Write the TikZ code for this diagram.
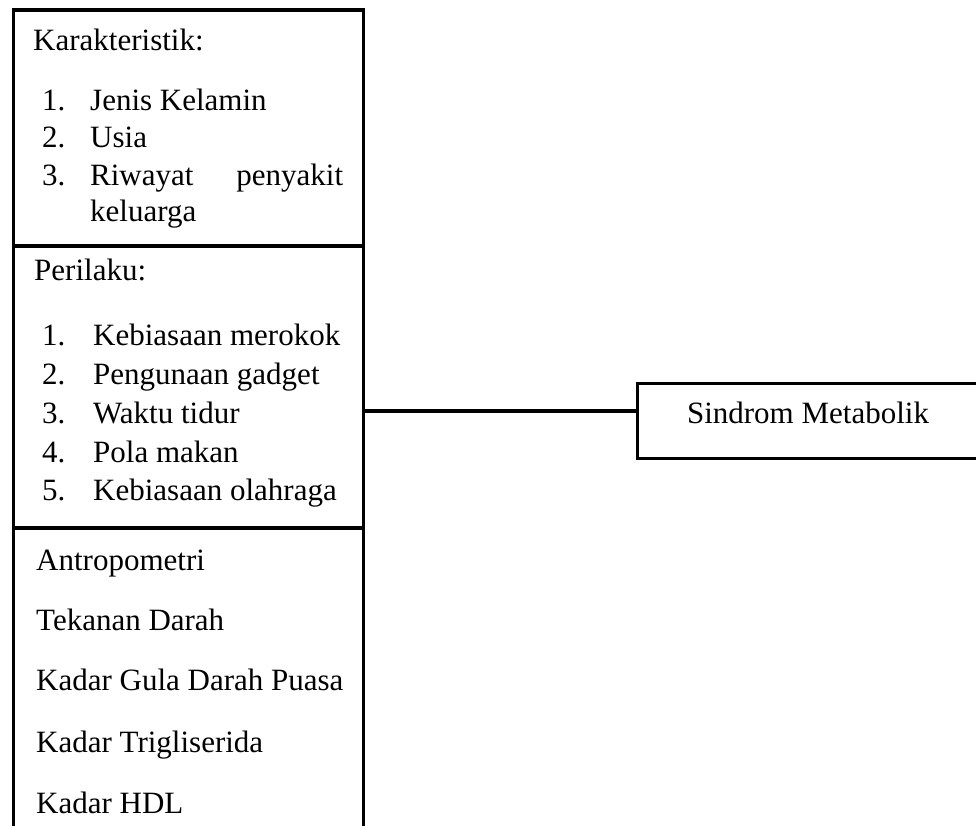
\documentclass[tikz,border=0pt]{standalone}
\usepackage{fontspec}
\setmainfont{Liberation Serif}
\begin{document}
\begin{tikzpicture}[x=1pt,y=-1pt,
  frame/.style={line width=3.2pt},
  txt/.style={anchor=base west,inner sep=0pt,font=\fontsize{31}{37}\selectfont},
  resultbox/.style={draw,line width=3pt,minimum width=342pt,minimum height=75pt,inner sep=0pt,
    text height=21pt,text depth=16pt,font=\fontsize{31}{37}\selectfont}]
\useasboundingbox (0,0) rectangle (976,825);
% left frame
\coordinate (tl) at (13.5,10);
\coordinate (tr) at (363.5,10);
\coordinate (bl) at (13.5,830);
\coordinate (br) at (363.5,830);
\coordinate (d1l) at (13.5,246);
\coordinate (d1r) at (363.5,246);
\coordinate (d2l) at (13.5,528);
\coordinate (d2r) at (363.5,528);
\draw[frame] (bl) -- (tl) -- (tr) -- (br);
\draw[frame] (d1l) -- (d1r);
\draw[frame] (d2l) -- (d2r);
% group 1
\node[txt] (k0) at (33,50) {Karakteristik:};
\node[txt] (k1n) at (42,110) {1.};
\node[txt] (k1) at (90,110) {Jenis Kelamin};
\node[txt] (k2n) at (42,147) {2.};
\node[txt] (k2) at (90,147) {Usia};
\node[txt] (k3n) at (42,185) {3.};
\node[txt] (k3) at (90,185) {\hbox to 253pt{Riwayat\hfill penyakit}};
\node[txt] (k3b) at (90,221) {keluarga};
% group 2
\node[txt] (p0) at (34,280) {Perilaku:};
\node[txt] (p1n) at (42,345) {1.};
\node[txt] (p1) at (93,345) {Kebiasaan merokok};
\node[txt] (p2n) at (42,384) {2.};
\node[txt] (p2) at (93,384) {Pengunaan gadget};
\node[txt] (p3n) at (42,423) {3.};
\node[txt] (p3) at (93,423) {Waktu tidur};
\node[txt] (p4n) at (42,462) {4.};
\node[txt] (p4) at (93,462) {Pola makan};
\node[txt] (p5n) at (42,500) {5.};
\node[txt] (p5) at (93,500) {Kebiasaan olahraga};
% group 3
\node[txt] (a1) at (36,570) {Antropometri};
\node[txt] (a2) at (36,630) {Tekanan Darah};
\node[txt] (a3) at (36,690) {Kadar Gula Darah Puasa};
\node[txt] (a4) at (36,752) {Kadar Trigliserida};
\node[txt] (a5) at (36,813) {Kadar HDL};
% result
\node[resultbox] (sm) at (808,420.5) {Sindrom Metabolik};
\coordinate (c1) at (363.5,411);
\draw[line width=3.2pt] (c1) -- (c1 -| sm.west);
\end{tikzpicture}
\end{document}
